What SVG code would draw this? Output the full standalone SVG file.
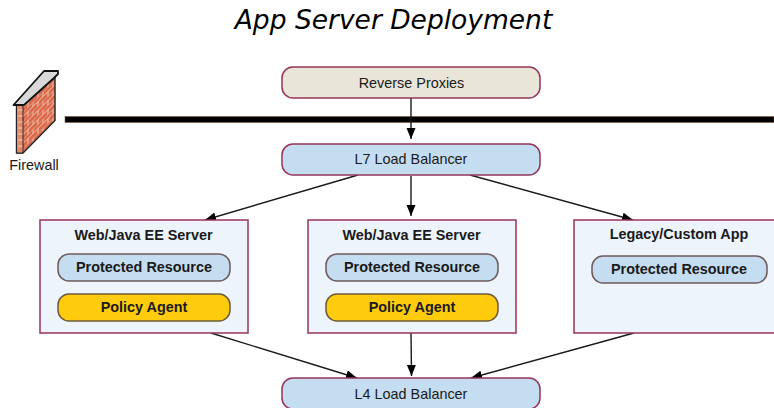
<svg xmlns="http://www.w3.org/2000/svg" width="774" height="408" viewBox="0 0 774 408">
<defs>
<style>
text{font-family:"Liberation Sans",Arial,sans-serif;fill:#1a1a1a;text-anchor:middle}
.title{font-family:"DejaVu Sans",sans-serif;font-style:italic;font-size:26.500px;fill:#000}
.lb{font-size:14.400px}
.b{font-size:14.400px;font-weight:bold}
.pill{stroke:#96345a;stroke-width:1.500}
.box{fill:#edf4fb;stroke:#96345a;stroke-width:1.500}
.res{fill:#c5ddf0;stroke:#6e5a5a;stroke-width:1.500}
.pol{fill:#ffcc0d;stroke:#6e5a3a;stroke-width:1.500}
.c{stroke:#1a1a1a;stroke-width:1.400;fill:none;marker-end:url(#a)}
</style>
<marker id="a" markerUnits="userSpaceOnUse" markerWidth="12" markerHeight="10" refX="11" refY="4.500" orient="auto"><path d="M0 0L11 4.500L0 9Z" fill="#000"/></marker>
<pattern id="brick" width="10" height="9" patternUnits="userSpaceOnUse" patternTransform="skewY(-45)"><rect width="10" height="9" fill="#d9694a"/><path d="M0 0H10M0 4.500H10M3 0V4.500M8 4.500V9" stroke="#f0c4b0" stroke-width="1"/></pattern>
</defs>
<text class="title" x="393.500" y="29">App Server Deployment</text>
<rect x="65" y="116.500" width="709" height="6" fill="#000" stroke="#8a5a40" stroke-width="0.600"/>
<g id="firewall">
<path d="M16.500 105V153H23L55 120.500V74Z" fill="url(#brick)" stroke="#222" stroke-width="1.400"/>
<path d="M16.500 105H23V153H16.500Z" fill="#e58a6c" stroke="#222" stroke-width="1"/>
<path d="M18 110H22.500M18 116H22.500M18 122H22.500M18 128H22.500M18 134H22.500M18 140H22.500M18 146H22.500" stroke="#f3c9b5" stroke-width="1"/>
<path d="M13.500 105L44 71H58V74L54 78L24 105Z" fill="#d9d9d9" stroke="#111" stroke-width="1.800" stroke-linejoin="round"/>
<text x="34" y="170" style="font-size:14.400px">Firewall</text>
</g>
<g id="connectors">
<path class="c" d="M411 98V139"/>
<path class="c" d="M358 175L205 220"/>
<path class="c" d="M411 176V216"/>
<path class="c" d="M470 175L633 220"/>
<path class="c" d="M211 333L357 378"/>
<path class="c" d="M411 333L411.500 376"/>
<path class="c" d="M634 333L471 378"/>
</g>
<g id="reverse-proxies"><rect class="pill" x="282" y="67" width="258" height="31" rx="11" fill="#e9e5d8"/><text class="lb" x="411.500" y="88">Reverse Proxies</text></g>
<g id="l7"><rect class="pill" x="282" y="144" width="258" height="31" rx="11" fill="#c5ddf0"/><text class="lb" x="411" y="164">L7 Load Balancer</text></g>
<g id="web1"><rect class="box" x="40" y="220" width="208" height="113"/><text class="b" x="143.500" y="240">Web/Java EE Server</text>
<rect class="res" x="58" y="254" width="172" height="27" rx="11"/><text class="b" x="144" y="272">Protected Resource</text>
<rect class="pol" x="58" y="294" width="172" height="27" rx="11"/><text class="b" x="144" y="312">Policy Agent</text></g>
<g id="web2"><rect class="box" x="308" y="220" width="208" height="113"/><text class="b" x="411.500" y="240">Web/Java EE Server</text>
<rect class="res" x="326" y="254" width="172" height="27" rx="11"/><text class="b" x="412" y="272">Protected Resource</text>
<rect class="pol" x="326" y="294" width="172" height="27" rx="11"/><text class="b" x="412" y="312">Policy Agent</text></g>
<g id="legacy"><rect class="box" x="574" y="220" width="208" height="113"/><text class="b" x="679" y="239">Legacy/Custom App</text>
<rect class="res" x="592" y="256" width="175" height="27" rx="11"/><text class="b" x="679" y="274">Protected Resource</text></g>
<g id="l4"><rect class="pill" x="282" y="378" width="258" height="31" rx="11" fill="#c5ddf0"/><text class="lb" x="411" y="399">L4 Load Balancer</text></g>
</svg>
